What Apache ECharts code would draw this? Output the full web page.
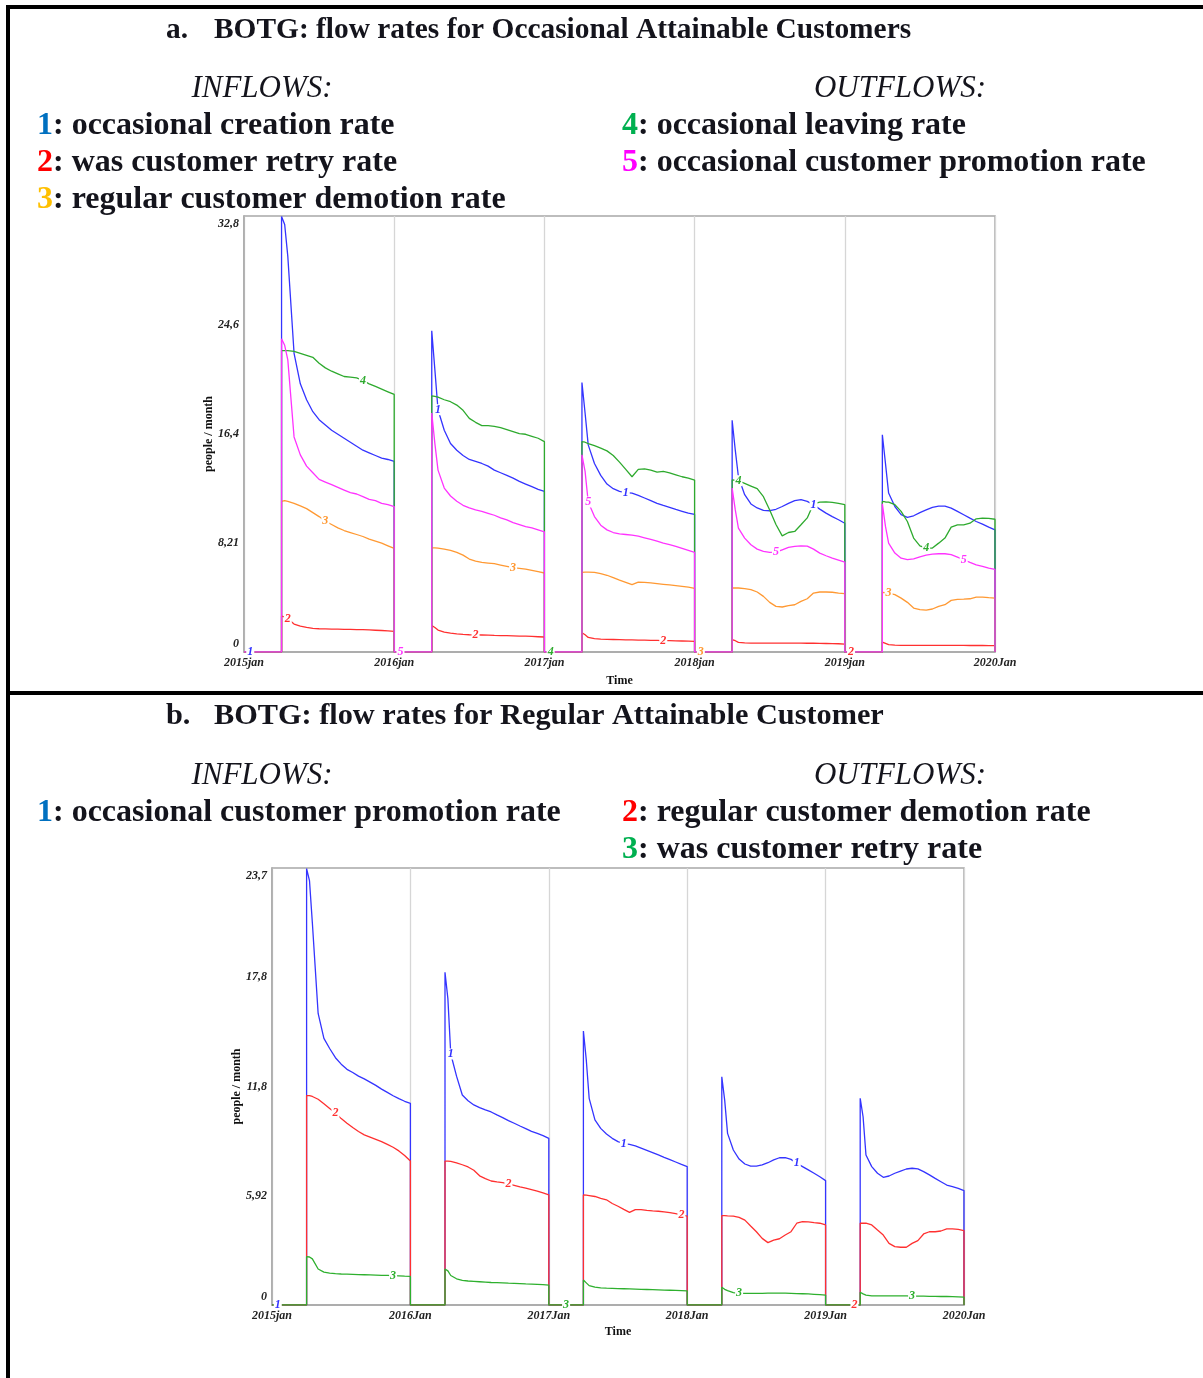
<!DOCTYPE html>
<html>
<head>
<meta charset="utf-8">
<title>BOTG flow rates</title>
<script src="https://cdn.jsdelivr.net/npm/echarts@6/dist/echarts.min.js"></script>
<style>
  html, body { margin: 0; padding: 0; background: #fff; }
  #chart { width: 1203px; height: 1378px; }
</style>
</head>
<body>
<div id="chart"></div>
<script>
// months inside each year where the rates are non-zero (sampled)
const activeMonths = [3, 3.25, 3.5, 4, 4.5, 5, 5.5, 6, 6.5, 7, 7.5, 8, 8.5, 9, 9.5, 10, 10.5, 11, 11.5, 12];

const xLabelsA = ['2015jan', '2016jan', '2017jan', '2018jan', '2019jan', '2020Jan'];
const xLabelsB = ['2015jan', '2016Jan', '2017Jan', '2018Jan', '2019Jan', '2020Jan'];

// ---- panel a: occasional attainable customers (one row per year) ----
const occCreation = [
  [32.8, 32.2, 29.8, 22.5, 20.2, 19.0, 18.1, 17.5, 17.1, 16.7, 16.4, 16.1, 15.8, 15.5, 15.2, 15.0, 14.8, 14.6, 14.5, 14.35],
  [24.2, 21.25, 18.25, 16.7, 15.7, 15.2, 14.8, 14.5, 14.35, 14.2, 14.0, 13.7, 13.5, 13.3, 13.1, 12.85, 12.65, 12.45, 12.25, 12.1],
  [20.3, 18.0, 15.6, 14.2, 13.3, 12.65, 12.3, 12.1, 12.0, 11.97, 11.8, 11.6, 11.4, 11.2, 11.04, 10.9, 10.74, 10.6, 10.46, 10.36],
  [17.45, 15.2, 13.2, 11.85, 11.15, 10.85, 10.66, 10.64, 10.75, 10.96, 11.2, 11.4, 11.47, 11.35, 11.09, 10.76, 10.46, 10.2, 9.96, 9.7],
  [16.36, 14.2, 11.97, 10.96, 10.34, 10.14, 10.26, 10.5, 10.7, 10.9, 10.99, 10.99, 10.84, 10.59, 10.34, 10.08, 9.83, 9.63, 9.41, 9.2]
];
const wasRetryA = [
  [2.7, 2.65, 2.5, 2.1, 1.95, 1.85, 1.78, 1.75, 1.74, 1.73, 1.72, 1.71, 1.7, 1.69, 1.68, 1.66, 1.64, 1.62, 1.59, 1.55],
  [2.0, 1.85, 1.65, 1.5, 1.42, 1.37, 1.33, 1.3, 1.29, 1.28, 1.27, 1.25, 1.24, 1.23, 1.22, 1.2, 1.19, 1.17, 1.15, 1.13],
  [1.45, 1.3, 1.1, 1.0, 0.97, 0.95, 0.94, 0.93, 0.92, 0.91, 0.9, 0.89, 0.88, 0.87, 0.86, 0.85, 0.84, 0.83, 0.82, 0.8],
  [0.93, 0.85, 0.73, 0.68, 0.67, 0.67, 0.67, 0.67, 0.67, 0.67, 0.67, 0.67, 0.67, 0.66, 0.66, 0.65, 0.64, 0.63, 0.62, 0.6],
  [0.75, 0.65, 0.55, 0.52, 0.5, 0.5, 0.5, 0.5, 0.5, 0.5, 0.5, 0.5, 0.5, 0.5, 0.5, 0.49, 0.49, 0.49, 0.48, 0.48]
];
const regDemotionA = [
  [11.35, 11.4, 11.35, 11.2, 11.0, 10.8, 10.5, 10.2, 9.85, 9.6, 9.35, 9.15, 9.0, 8.85, 8.7, 8.5, 8.35, 8.2, 8.0, 7.8],
  [7.85, 7.85, 7.82, 7.75, 7.65, 7.5, 7.3, 7.0, 6.85, 6.75, 6.7, 6.65, 6.55, 6.45, 6.35, 6.3, 6.25, 6.15, 6.05, 5.95],
  [6.0, 6.02, 6.02, 6.0, 5.9, 5.78, 5.6, 5.42, 5.25, 5.08, 5.27, 5.25, 5.2, 5.15, 5.1, 5.05, 5.0, 4.95, 4.88, 4.8],
  [4.82, 4.82, 4.82, 4.77, 4.7, 4.52, 4.19, 3.74, 3.44, 3.39, 3.49, 3.56, 3.81, 4.01, 4.44, 4.52, 4.52, 4.5, 4.44, 4.39],
  [4.49, 4.47, 4.44, 4.32, 4.06, 3.74, 3.31, 3.19, 3.16, 3.24, 3.44, 3.56, 3.89, 3.96, 3.98, 4.01, 4.14, 4.14, 4.09, 4.06]
];
const occLeaving = [
  [22.7, 22.7, 22.7, 22.65, 22.5, 22.35, 22.2, 21.75, 21.4, 21.15, 20.95, 20.75, 20.7, 20.65, 20.45, 20.2, 20.0, 19.8, 19.6, 19.4],
  [19.3, 19.25, 19.2, 19.0, 18.85, 18.6, 18.2, 17.6, 17.3, 17.05, 17.05, 17.0, 16.9, 16.75, 16.6, 16.45, 16.4, 16.25, 16.1, 15.85],
  [15.85, 15.8, 15.7, 15.55, 15.35, 15.15, 14.8, 14.3, 13.75, 13.2, 13.75, 13.8, 13.7, 13.55, 13.6, 13.5, 13.35, 13.2, 13.1, 12.95],
  [12.97, 12.95, 12.9, 12.7, 12.5, 12.3, 11.7, 10.7, 9.6, 8.75, 9.0, 9.08, 9.58, 10.1, 11.16, 11.29, 11.3, 11.27, 11.2, 11.1],
  [11.34, 11.3, 11.29, 11.1, 10.59, 9.83, 8.58, 8.0, 7.83, 7.83, 8.2, 8.58, 9.41, 9.58, 9.58, 9.7, 10.03, 10.08, 10.06, 10.0]
];
const occPromotion = [
  [23.6, 23.1, 22.0, 16.2, 14.85, 14.0, 13.5, 13.0, 12.8, 12.6, 12.4, 12.2, 12.0, 11.9, 11.7, 11.5, 11.4, 11.2, 11.1, 10.95],
  [18.0, 15.7, 13.7, 12.35, 11.75, 11.35, 11.05, 10.85, 10.7, 10.6, 10.45, 10.3, 10.1, 9.95, 9.75, 9.6, 9.45, 9.35, 9.2, 9.05],
  [14.85, 13.6, 11.3, 10.2, 9.55, 9.2, 9.0, 8.9, 8.85, 8.8, 8.72, 8.6, 8.48, 8.35, 8.2, 8.08, 7.95, 7.8, 7.65, 7.5],
  [12.35, 10.7, 9.33, 8.58, 8.08, 7.75, 7.58, 7.5, 7.52, 7.7, 7.88, 7.95, 8.0, 7.98, 7.75, 7.45, 7.25, 7.07, 6.92, 6.77],
  [11.16, 9.46, 8.2, 7.45, 7.07, 6.95, 7.02, 7.17, 7.3, 7.37, 7.4, 7.4, 7.33, 7.15, 6.95, 6.75, 6.57, 6.45, 6.32, 6.22]
];

// ---- panel b: regular attainable customer ----
const promoB = [
  [23.65, 23.0, 20.7, 15.8, 14.45, 13.9, 13.4, 13.05, 12.77, 12.6, 12.4, 12.25, 12.08, 11.9, 11.7, 11.52, 11.34, 11.18, 11.04, 10.93],
  [18.03, 16.6, 13.6, 12.4, 11.38, 11.07, 10.84, 10.7, 10.57, 10.46, 10.3, 10.15, 9.99, 9.85, 9.7, 9.56, 9.41, 9.3, 9.18, 9.03],
  [14.85, 13.28, 11.2, 10.03, 9.57, 9.27, 9.03, 8.85, 8.74, 8.7, 8.62, 8.5, 8.38, 8.26, 8.13, 8.0, 7.88, 7.75, 7.62, 7.5],
  [12.37, 11.1, 9.3, 8.4, 7.91, 7.64, 7.53, 7.53, 7.59, 7.71, 7.86, 7.98, 7.98, 7.89, 7.68, 7.5, 7.32, 7.14, 6.95, 6.74],
  [11.2, 10.2, 8.13, 7.5, 7.14, 6.92, 6.99, 7.14, 7.26, 7.37, 7.41, 7.38, 7.23, 7.05, 6.86, 6.68, 6.5, 6.41, 6.32, 6.2]
];
const demoteB = [
  [11.35, 11.35, 11.3, 11.15, 10.9, 10.65, 10.4, 10.1, 9.85, 9.62, 9.4, 9.22, 9.1, 8.98, 8.85, 8.7, 8.55, 8.35, 8.1, 7.8],
  [7.8, 7.8, 7.78, 7.7, 7.6, 7.48, 7.3, 7.0, 6.85, 6.72, 6.67, 6.63, 6.56, 6.48, 6.4, 6.33, 6.25, 6.17, 6.07, 5.97],
  [5.96, 5.95, 5.93, 5.88, 5.78, 5.7, 5.5, 5.35, 5.18, 5.02, 5.17, 5.17, 5.13, 5.1, 5.08, 5.05, 5.0, 4.95, 4.88, 4.82],
  [4.84, 4.84, 4.83, 4.82, 4.75, 4.6, 4.28, 3.97, 3.61, 3.38, 3.52, 3.59, 3.79, 3.97, 4.43, 4.52, 4.5, 4.46, 4.43, 4.34],
  [4.43, 4.43, 4.43, 4.34, 4.06, 3.79, 3.34, 3.16, 3.13, 3.13, 3.34, 3.49, 3.85, 3.97, 3.97, 4.01, 4.12, 4.12, 4.1, 4.03]
];
const retryB = [
  [2.62, 2.6, 2.5, 1.95, 1.78, 1.73, 1.7, 1.68, 1.67, 1.66, 1.65, 1.64, 1.63, 1.62, 1.61, 1.6, 1.59, 1.58, 1.56, 1.55],
  [1.95, 1.85, 1.6, 1.42, 1.33, 1.3, 1.28, 1.26, 1.24, 1.22, 1.21, 1.2, 1.18, 1.17, 1.16, 1.14, 1.13, 1.12, 1.1, 1.08],
  [1.35, 1.2, 1.05, 0.97, 0.93, 0.91, 0.9, 0.89, 0.88, 0.87, 0.86, 0.85, 0.84, 0.83, 0.82, 0.81, 0.8, 0.79, 0.78, 0.76],
  [0.96, 0.85, 0.78, 0.67, 0.63, 0.63, 0.63, 0.63, 0.63, 0.64, 0.64, 0.64, 0.64, 0.63, 0.62, 0.61, 0.6, 0.58, 0.56, 0.54],
  [0.69, 0.6, 0.54, 0.49, 0.49, 0.49, 0.49, 0.49, 0.49, 0.49, 0.48, 0.48, 0.48, 0.47, 0.47, 0.46, 0.46, 0.45, 0.44, 0.43]
];

// where the numbered line labels sit: [year index, month in year]
const spotsA = [
  [[0, 0.5], [1, 3.5], [2, 6.5], [3, 9.5]],
  [[0, 3.5], [1, 6.5], [2, 9.5], [4, 0.5]],
  [[0, 6.5], [1, 9.5], [3, 0.5], [4, 3.5]],
  [[0, 9.5], [2, 0.5], [3, 3.5], [4, 6.5]],
  [[1, 0.5], [2, 3.5], [3, 6.5], [4, 9.5]]
];
const spotsB = [
  [[0, 0.5], [1, 3.5], [2, 6.5], [3, 9.5]],
  [[0, 5.5], [1, 8.5], [2, 11.5], [4, 2.5]],
  [[0, 10.5], [2, 1.5], [3, 4.5], [4, 7.5]]
];

const SERIF = '"Liberation Serif", "DejaVu Serif", serif';

function marked(p) {
  return { value: p, symbol: 'circle', symbolSize: 0, label: { show: true } };
}

// turn the per-year rows into [month, value] points with the jumps
function buildData(yearVals, spots) {
  const pts = [];
  const start = activeMonths[0];
  const isSpot = (y, m) => spots.some(s => s[0] === y && s[1] === m);
  yearVals.forEach((vals, y) => {
    const base = 12 * y;
    pts.push([base, 0]);
    spots.filter(s => s[0] === y && s[1] < start)
      .forEach(s => pts.push(marked([base + s[1], 0])));
    pts.push([base + start, 0]);
    vals.forEach((v, i) => {
      const p = [base + activeMonths[i], v];
      pts.push(isSpot(y, activeMonths[i]) ? marked(p) : p);
    });
    pts.push([base + 12, 0]);
  });
  return pts;
}

function lineSeries(num, color, vals, spots, axisIdx) {
  return {
    type: 'line',
    xAxisIndex: axisIdx,
    yAxisIndex: axisIdx,
    symbol: 'none',
    data: buildData(vals, spots),
    lineStyle: { color: color, width: 1.3 },
    itemStyle: { color: color },
    label: {
      show: false,
      position: 'inside',
      formatter: String(num),
      color: color,
      fontFamily: SERIF,
      fontStyle: 'italic',
      fontWeight: 'bold',
      fontSize: 12,
      lineHeight: 11,
      backgroundColor: '#fff',
      padding: [0, 1]
    },
    emphasis: { disabled: true },
    silent: true
  };
}

function fmtTick(v) {
  return v === 0 ? '0' : String(Number(v.toPrecision(3))).replace('.', ',');
}

function makeAxes(idx, max, interval, xLabels, timeGap) {
  const axisFont = { fontFamily: SERIF, fontStyle: 'italic', fontWeight: 'bold', fontSize: 12, color: '#222' };
  const x = {
    type: 'value', gridIndex: idx, min: 0, max: 60, interval: 12,
    name: 'Time', nameLocation: 'middle', nameGap: timeGap, nameMoveOverlap: false,
    nameTextStyle: { fontFamily: SERIF, fontWeight: 'bold', fontSize: 12, color: '#111' },
    axisLine: { lineStyle: { color: '#a8a8a8', width: 1.5 } },
    axisTick: { show: false },
    axisLabel: Object.assign({ margin: 5, formatter: v => xLabels[Math.round(v / 12)] }, axisFont),
    splitLine: { show: true, lineStyle: { color: '#d6d6d6', width: 1.3 } }
  };
  const y = {
    type: 'value', gridIndex: idx, min: 0, max: max, interval: interval,
    name: 'people / month', nameLocation: 'middle', nameRotate: 90, nameGap: 29, nameMoveOverlap: false,
    nameTextStyle: { fontFamily: SERIF, fontWeight: 'bold', fontSize: 12, color: '#111' },
    axisLine: { show: true, lineStyle: { color: '#a8a8a8', width: 1.5 } },
    axisTick: { show: false },
    splitLine: { show: false },
    axisLabel: Object.assign({
      margin: 5,
      formatter: v => {
        if (v === 0) return '{lo|0}';
        if (Math.abs(v - max) < 1e-6) return '{hi|' + fmtTick(v) + '}';
        return fmtTick(v);
      },
      rich: { lo: { padding: [0, 0, 16, 0] }, hi: { padding: [15, 0, 0, 0] } }
    }, axisFont)
  };
  return { x, y };
}

const axA = makeAxes(0, 32.84, 8.21, xLabelsA, 23);
const axB = makeAxes(1, 23.68, 5.92, xLabelsB, 21);

const colA = ['#3434ff', '#ff3030', '#ff9933', '#2eaa2e', '#ff33ff'];
const colB = ['#3434ff', '#ff3030', '#2eb02e'];

const ink = '#14141c';
const fontTitleA = 'bold 29.4px ' + SERIF;
const fontTitleB = 'bold 30.3px ' + SERIF;
const fontHead = 'italic 31px ' + SERIF;
const fontLeg = 'bold 32px ' + SERIF;

function txt(x, y, text, font, align, rich) {
  return {
    type: 'text', x: x, y: y, silent: true,
    style: { text: text, font: font, fill: ink, align: align || 'left', verticalAlign: 'middle', rich: rich }
  };
}
function legRich(color) {
  return { n: { fill: color, font: fontLeg } };
}
function bar(x, y, w, h) {
  return { type: 'rect', silent: true, shape: { x: x, y: y, width: w, height: h }, style: { fill: '#000' } };
}

const chart = echarts.init(document.getElementById('chart'));
chart.setOption({
  animation: false,
  backgroundColor: '#fff',
  grid: [
    { left: 244, top: 216, width: 751, height: 436, show: true, borderColor: '#a8a8a8', borderWidth: 1.5, backgroundColor: 'transparent' },
    { left: 272, top: 868, width: 692, height: 437, show: true, borderColor: '#a8a8a8', borderWidth: 1.5, backgroundColor: 'transparent' }
  ],
  xAxis: [axA.x, axB.x],
  yAxis: [axA.y, axB.y],
  series: [
    lineSeries(1, colA[0], occCreation, spotsA[0], 0),
    lineSeries(2, colA[1], wasRetryA, spotsA[1], 0),
    lineSeries(3, colA[2], regDemotionA, spotsA[2], 0),
    lineSeries(4, colA[3], occLeaving, spotsA[3], 0),
    lineSeries(5, colA[4], occPromotion, spotsA[4], 0),
    lineSeries(1, colB[0], promoB, spotsB[0], 1),
    lineSeries(2, colB[1], demoteB, spotsB[1], 1),
    lineSeries(3, colB[2], retryB, spotsB[2], 1)
  ],
  graphic: [
    // frame
    bar(6, 5, 1197, 4),
    bar(6, 5, 4, 1373),
    bar(6, 691, 1197, 4),
    // panel a
    txt(166, 30, 'a.', fontTitleA),
    txt(214, 30, 'BOTG: flow rates for Occasional Attainable Customers', fontTitleA),
    txt(262, 89, 'INFLOWS:', fontHead, 'center'),
    txt(900, 89, 'OUTFLOWS:', fontHead, 'center'),
    txt(37, 126, '{n|1}: occasional creation rate', fontLeg, 'left', legRich('#0070c0')),
    txt(37, 163, '{n|2}: was customer retry rate', fontLeg, 'left', legRich('#ff0000')),
    txt(37, 200, '{n|3}: regular customer demotion rate', fontLeg, 'left', legRich('#ffc000')),
    txt(622, 126, '{n|4}: occasional leaving rate', fontLeg, 'left', legRich('#00b050')),
    txt(622, 163, '{n|5}: occasional customer promotion rate', fontLeg, 'left', legRich('#ff00ff')),
    // panel b
    txt(166, 716, 'b.', fontTitleB),
    txt(214, 716, 'BOTG: flow rates for Regular Attainable Customer', fontTitleB),
    txt(262, 776, 'INFLOWS:', fontHead, 'center'),
    txt(900, 776, 'OUTFLOWS:', fontHead, 'center'),
    txt(37, 813, '{n|1}: occasional customer promotion rate', fontLeg, 'left', legRich('#0070c0')),
    txt(622, 813, '{n|2}: regular customer demotion rate', fontLeg, 'left', legRich('#ff0000')),
    txt(622, 850, '{n|3}: was customer retry rate', fontLeg, 'left', legRich('#00b050'))
  ]
});
</script>
</body>
</html>
